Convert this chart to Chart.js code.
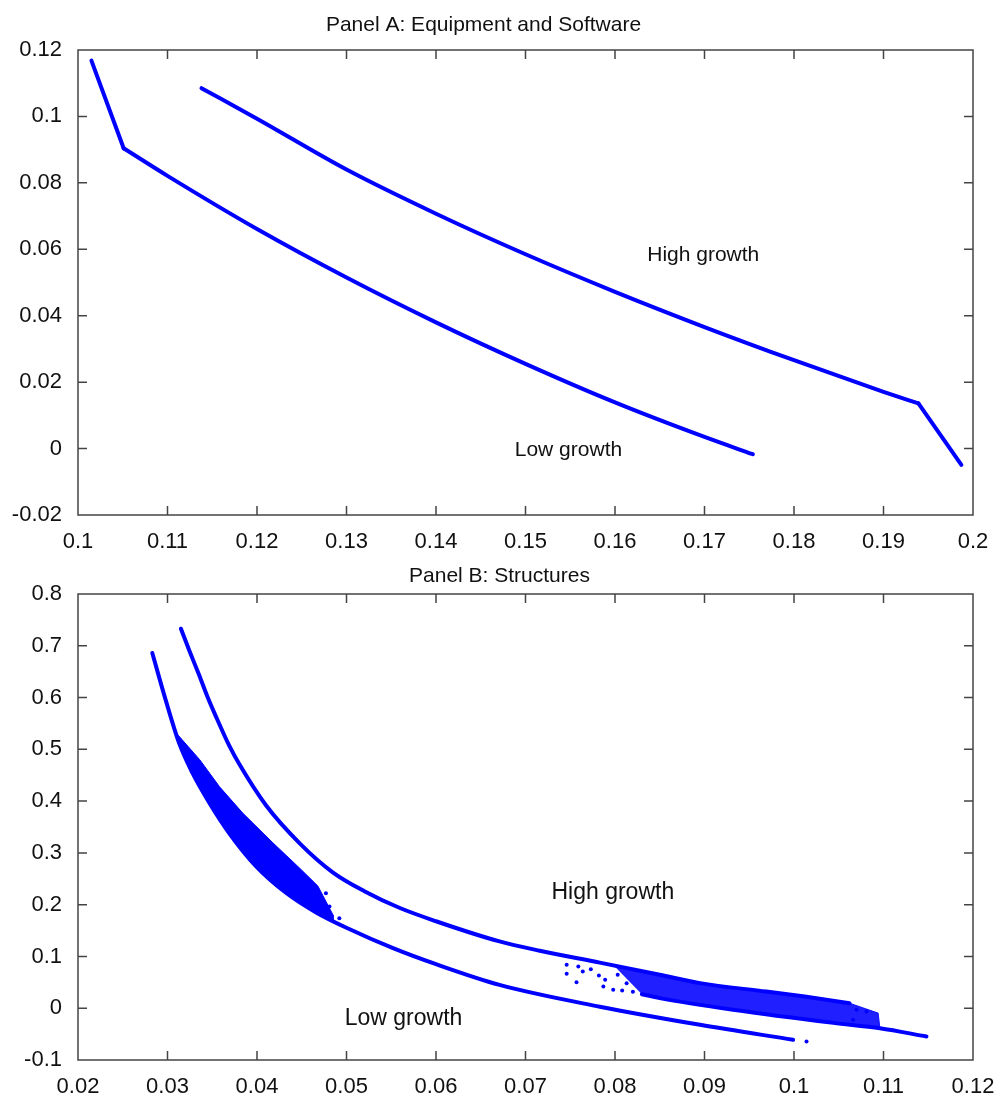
<!DOCTYPE html>
<html><head><meta charset="utf-8">
<script src="https://cdn.jsdelivr.net/npm/chart.js@4/dist/chart.umd.min.js"></script>
<style>
html,body{margin:0;padding:0;background:#fff;width:1001px;height:1096px;overflow:hidden}
canvas{position:absolute;left:0}
#cA{top:0}
#cB{top:555px}
</style></head><body>
<canvas id="cA" width="1001" height="555"></canvas>
<canvas id="cB" width="1001" height="541"></canvas>
<script>
// ---------- Panel A: Equipment and Software ----------
const xTicksA = [0.1,0.11,0.12,0.13,0.14,0.15,0.16,0.17,0.18,0.19,0.2];
const yTicksA = [-0.02,0,0.02,0.04,0.06,0.08,0.1,0.12];
const lowA_x  = [0.1015,0.1051,0.1100,0.1200,0.1300,0.1400,0.1500,0.1600,0.1700,0.1754];
const lowA_y  = [0.1168,0.0904,0.0821,0.0661,0.0515,0.0380,0.0255,0.0139,0.0035,-0.0017];
const lowA_kink = 1;   // index of the corner point
const highA_x = [0.1138,0.1200,0.1300,0.1400,0.1500,0.1600,0.1700,0.1800,0.1900,0.1939,0.1987];
const highA_y = [0.1085,0.0993,0.0840,0.0707,0.0585,0.0472,0.0366,0.0266,0.0171,0.0136,-0.0049];
const highA_kink = 9;  // index of the corner point

// ---------- Panel B: Structures ----------
const xTicksB = [0.02,0.03,0.04,0.05,0.06,0.07,0.08,0.09,0.1,0.11,0.12];
const yTicksB = [-0.1,0,0.1,0.2,0.3,0.4,0.5,0.6,0.7,0.8];
const highB_x = [0.0315,0.0325,0.0335,0.0345,0.0355,0.0369,0.0380,0.0410,0.0448,0.0485,0.0520,0.0559,0.0600,0.0671,0.0716,0.0783,0.0850,0.0895,0.0969,0.1012,0.1062];
const highB_y = [0.733,0.688,0.645,0.600,0.560,0.507,0.472,0.392,0.318,0.262,0.226,0.194,0.168,0.129,0.111,0.088,0.0645,0.0485,0.0322,0.0226,0.0098];
const highTail_x = [0.0830,0.0850,0.0932,0.1044,0.1096,0.1148];
const highTail_y = [0.0270,0.0195,-0.0031,-0.0283,-0.0385,-0.0546];
const highBandTop_x = [0.0800,0.0850,0.0895,0.0969,0.1012,0.1062,0.1094];
const highBandTop_y = [0.0800,0.0645,0.0485,0.0322,0.0226,0.0098,-0.0094];
const lowB_x = [0.0283,0.0298,0.0313,0.0328,0.0347,0.0369,0.0399,0.0433,0.0466,0.0503,0.0552,0.0600,0.0671,0.0783,0.0895,0.0999];
const lowB_y = [0.686,0.595,0.512,0.454,0.396,0.338,0.274,0.222,0.185,0.153,0.116,0.085,0.045,0.003,-0.032,-0.061];
const lowBandTop_x = [0.0310,0.0336,0.0358,0.0384,0.0418,0.0448,0.0468,0.0485];
const lowBandTop_y = [0.531,0.480,0.428,0.377,0.319,0.270,0.236,0.180];
const lowBandBot_x = [0.0310,0.0328,0.0347,0.0369,0.0399,0.0433,0.0466,0.0485];
const lowBandBot_y = [0.527,0.454,0.396,0.338,0.274,0.222,0.185,0.169];
const sparseB_x = [0.0746,0.0746,0.0757,0.0759,0.0764,0.0773,0.0782,0.0789,0.0787,0.0803,0.0813,0.0798,0.0808,0.0820,0.1070,0.1081,0.1066,0.1014,0.0448,0.0462,0.0477,0.0470,0.0481,0.0492];
const sparseB_y = [0.0838,0.0664,0.0504,0.0805,0.0708,0.0754,0.0631,0.0548,0.0419,0.0645,0.0484,0.0355,0.0340,0.0320,-0.0031,-0.0064,-0.0224,-0.0644,0.2349,0.2286,0.2222,0.2093,0.1963,0.1738];

const FONT = '"Liberation Sans", Arial, Helvetica, sans-serif';
const BLUE = '#0000ff';
const pts = (xs, ys) => xs.map((x, i) => ({x, y: ys[i]}));

const framePlugin = {
  id: 'frame',
  afterDraw(chart, args, o) {
    const {ctx, chartArea: a} = chart;
    const sx = chart.scales.x, sy = chart.scales.y;
    ctx.save();
    ctx.strokeStyle = '#444'; ctx.lineWidth = 1.5;
    ctx.strokeRect(a.left, a.top, a.right - a.left, a.bottom - a.top);
    const L = 9;
    ctx.beginPath();
    sx.ticks.forEach(t => {
      const p = sx.getPixelForValue(t.value);
      if (p <= a.left + 1 || p >= a.right - 1) return;
      ctx.moveTo(p, a.bottom); ctx.lineTo(p, a.bottom - L);
      ctx.moveTo(p, a.top); ctx.lineTo(p, a.top + L);
    });
    sy.ticks.forEach(t => {
      const p = sy.getPixelForValue(t.value);
      if (p <= a.top + 1 || p >= a.bottom - 1) return;
      ctx.moveTo(a.left, p); ctx.lineTo(a.left + L, p);
      ctx.moveTo(a.right, p); ctx.lineTo(a.right - L, p);
    });
    ctx.stroke();
    ctx.fillStyle = '#111';
    ctx.textBaseline = 'alphabetic';
    ctx.textAlign = 'center';
    ctx.font = o.titleSize + 'px ' + FONT;
    ctx.fillText(o.title, o.titleX, o.titleY);
    ctx.textAlign = 'left';
    for (const n of o.notes) {
      ctx.font = n.size + 'px ' + FONT;
      ctx.fillText(n.text, sx.getPixelForValue(n.x), sy.getPixelForValue(n.y));
    }
    ctx.restore();
  }
};

function axis(min, max, ticksArr, isX, xh) {
  return {
    type: 'linear', min, max,
    afterBuildTicks: s => { s.ticks = ticksArr.map(v => ({value: v})); },
    afterFit: s => {
      if (isX) { s.height = xh; s.paddingLeft = 0; s.paddingRight = 0; }
      else { s.width = 78; s.paddingTop = 0; s.paddingBottom = 0; }
    },
    ticks: {
      font: {family: FONT, size: 22}, color: '#111',
      padding: isX ? 14 : 16, autoSkip: false, maxRotation: 0, minRotation: 0,
      callback: v => String(parseFloat(Number(v).toFixed(3)))
    },
    grid: {display: false, drawTicks: false, tickLength: 0},
    border: {display: false}
  };
}

const lineDs = (data, smooth) => ({type: 'line', data, borderColor: BLUE, borderWidth: 4, pointRadius: 0,
  borderCapStyle: 'round', borderJoinStyle: 'round',
  cubicInterpolationMode: smooth ? 'monotone' : 'default', tension: 0, fill: false});
const bandDs = (data, color) => ({type: 'line', data, borderColor: color, backgroundColor: color, borderWidth: 1,
  pointRadius: 0, tension: 0, fill: 'shape'});

const common = (xs, ys, xh, top, frame) => ({
  responsive: false, animation: false, devicePixelRatio: 1,
  layout: {padding: {top, left: 0, right: 28, bottom: 0}},
  plugins: {legend: {display: false}, tooltip: {enabled: false}, frame},
  scales: {x: axis(xs[0], xs[1], xs[2], true, xh), y: axis(ys[0], ys[1], ys[2], false)}
});

const lowA = pts(lowA_x, lowA_y), highA = pts(highA_x, highA_y);
new Chart(document.getElementById('cA'), {
  type: 'line',
  data: {datasets: [
    lineDs(lowA.slice(0, lowA_kink + 1), false), lineDs(lowA.slice(lowA_kink), true),
    lineDs(highA.slice(0, highA_kink + 1), true), lineDs(highA.slice(highA_kink), false)
  ]},
  options: common([0.1, 0.2, xTicksA], [-0.02, 0.12, yTicksA], 555 - 515, 50, {
    title: 'Panel A: Equipment and Software', titleSize: 21, titleX: 483.5, titleY: 31,
    notes: [{text: 'High growth', x: 0.1636, y: 0.0566, size: 21},
            {text: 'Low growth', x: 0.1488, y: -0.0022, size: 21}]
  }),
  plugins: [framePlugin]
});

const lowBand = pts(lowBandTop_x, lowBandTop_y).concat(pts(lowBandBot_x, lowBandBot_y).reverse());
const highBand = pts(highBandTop_x, highBandTop_y).concat(pts(highTail_x.slice(0, 5), highTail_y.slice(0, 5)).reverse());

new Chart(document.getElementById('cB'), {
  type: 'line',
  data: {datasets: [
    bandDs(lowBand, BLUE), bandDs(highBand, 'rgba(0,0,255,0.88)'),
    lineDs(pts(lowB_x, lowB_y), true), lineDs(pts(highB_x, highB_y), true), lineDs(pts(highTail_x, highTail_y), true),
    {type: 'line', data: pts(sparseB_x, sparseB_y), showLine: false, pointRadius: 2,
     pointBackgroundColor: BLUE, pointBorderWidth: 0, borderColor: BLUE}
  ]},
  options: common([0.02, 0.12, xTicksB], [-0.1, 0.8, yTicksB], 541 - 505, 39, {
    title: 'Panel B: Structures', titleSize: 21, titleX: 499.5, titleY: 26.7,
    notes: [{text: 'High growth', x: 0.0729, y: 0.2112, size: 23},
            {text: 'Low growth', x: 0.0498, y: -0.0320, size: 23}]
  }),
  plugins: [framePlugin]
});
</script>
</body></html>
